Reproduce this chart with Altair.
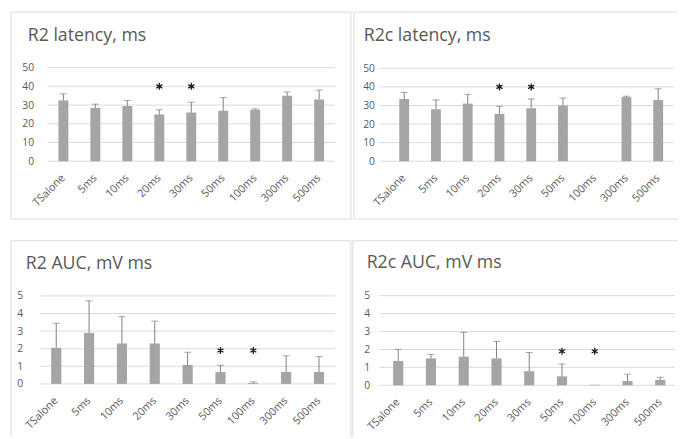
import altair as alt
import pandas as pd

categories = ["TSalone", "5ms", "10ms", "20ms", "30ms", "50ms", "100ms", "300ms", "500ms"]

r2_lat_mean = [32.5, 28.5, 29.5, 25.0, 26.0, 27.0, 27.5, 35.0, 33.0]
r2_lat_sd = [3.5, 2.0, 3.0, 2.5, 5.5, 7.0, 0.5, 2.0, 5.0]

r2c_lat_mean = [33.5, 28.0, 31.0, 25.5, 28.5, 30.0, None, 34.5, 33.0]
r2c_lat_sd = [3.5, 5.0, 5.0, 4.0, 5.0, 4.0, None, 0.5, 6.0]

r2_auc_mean = [2.05, 2.9, 2.3, 2.3, 1.08, 0.68, 0.05, 0.68, 0.68]
r2_auc_sd = [1.4, 1.82, 1.52, 1.27, 0.72, 0.38, 0.07, 0.92, 0.87]

r2c_auc_mean = [1.36, 1.5, 1.6, 1.5, 0.79, 0.5, 0.03, 0.24, 0.3]
r2c_auc_sd = [0.64, 0.22, 1.35, 0.95, 1.04, 0.69, None, 0.38, 0.15]

lat_stars = ["20ms", "30ms"]
lat_star_level = 40
auc_stars = ["50ms", "100ms"]
auc_star_level = 1.9

lat_ticks = [0, 10, 20, 30, 40, 50]
auc_ticks = [0, 1, 2, 3, 4, 5]

FONT = "Open Sans"
TXT = "#595959"
GRID = "#D9D9D9"
BAR = "#A5A5A5"
ERR = "#7F7F7F"
ASTERISK = "M0,-1L0,1M-0.87,-0.5L0.87,0.5M-0.87,0.5L0.87,-0.5"


def panel(title, means, sds, stars, star_level, ticks, lay):
    W, H = lay["size"]
    tops = [None if (m is None or s is None) else m + s for m, s in zip(means, sds)]
    df = pd.DataFrame({"cat": categories, "mean": means, "top": tops})
    y0, y1 = lay["yrange"]
    xscale = alt.Scale(range=list(lay["band"]), paddingInner=0.69, paddingOuter=0.345)
    yscale = alt.Scale(domain=[ticks[0], ticks[-1]], range=[y0, y1], nice=False, zero=True)
    xaxis = alt.Axis(title=None, labelAngle=-45, labelAlign="right",
                     labelBaseline="middle", ticks=False, tickSize=0,
                     domain=False, grid=False, labelColor=TXT, labelFont=FONT,
                     labelFontSize=11, labelPadding=lay["xpad"],
                     labelOverlap=False, offset=-(H - y0))
    yaxis = alt.Axis(title=None, values=ticks, tickCount=len(ticks), ticks=False,
                     tickSize=0, domain=False, grid=False, labelColor=TXT,
                     labelFont=FONT, labelFontSize=10.5, labelPadding=0,
                     labelOverlap=False, offset=-lay["ylab"])
    gdf = pd.DataFrame({"v": ticks})
    gl, gr = lay["grid"]
    grid = alt.Chart(gdf).mark_rule(color=GRID, strokeWidth=1).encode(
        y=alt.Y("v:Q", scale=yscale, axis=yaxis), x=alt.value(gl), x2=alt.value(gr))
    base = alt.Chart(df)
    bars = base.mark_bar(color=BAR).encode(
        x=alt.X("cat:N", sort=categories, scale=xscale, axis=xaxis),
        y=alt.Y("mean:Q", scale=yscale, axis=yaxis))
    err = base.mark_rule(color=ERR, strokeWidth=1).encode(
        x=alt.X("cat:N", sort=categories), y=alt.Y("mean:Q"), y2="top:Q")
    cap = base.mark_tick(color=ERR, thickness=1, size=7, orient="horizontal").encode(
        x=alt.X("cat:N", sort=categories), y=alt.Y("top:Q"))
    sdf = pd.DataFrame({"cat": stars, "level": [star_level] * len(stars)})
    star = alt.Chart(sdf).mark_point(shape=ASTERISK, filled=False, color="#1a1a1a",
                                     strokeWidth=1.3, size=50, opacity=1).encode(
        x=alt.X("cat:N", sort=categories), y=alt.Y("level:Q"))
    tdf = pd.DataFrame({"t": [title]})
    tx, ty = lay["title"]
    ttl = alt.Chart(tdf).mark_text(align="left", baseline="alphabetic", font=FONT,
                                   fontSize=18, color=TXT).encode(
        x=alt.value(tx), y=alt.value(ty), text="t:N")
    one = pd.DataFrame({"k": [0]})
    fr = alt.Chart(one).mark_rule(color=GRID, strokeWidth=1)
    edges = [
        fr.encode(x=alt.value(0), x2=alt.value(W), y=alt.value(0)),
        fr.encode(x=alt.value(0), y=alt.value(0), y2=alt.value(H)),
    ]
    if lay["right"]:
        edges.append(fr.encode(x=alt.value(W), y=alt.value(0), y2=alt.value(H)))
    if lay["bottom"]:
        edges.append(fr.encode(x=alt.value(0), x2=alt.value(W), y=alt.value(H)))
    return alt.layer(grid, bars, err, cap, star, ttl, *edges).properties(width=W, height=H)


lay_tl = dict(size=(345, 210), band=(37, 329), grid=(37, 329), yrange=(151.3, 56.3),
              ylab=23, xpad=15, title=(17, 29), right=True, bottom=True)
lay_tr = dict(size=(329, 210), band=(35, 325), grid=(26, 325), yrange=(151.3, 57),
              ylab=21, xpad=15, title=(10, 29), right=False, bottom=True)
lay_bl = dict(size=(345, 199), band=(29.3, 329.3), grid=(30, 329), yrange=(145.3, 56),
              ylab=12, xpad=15, title=(15, 29), right=True, bottom=False)
lay_br = dict(size=(330, 199), band=(29.4, 328.6), grid=(27, 327), yrange=(146.7, 55.7),
              ylab=17, xpad=15, title=(14, 28), right=False, bottom=False)

tl = panel("R2 latency, ms", r2_lat_mean, r2_lat_sd, lat_stars, lat_star_level, lat_ticks, lay_tl)
tr = panel("R2c latency, ms", r2c_lat_mean, r2c_lat_sd, lat_stars, lat_star_level, lat_ticks, lay_tr)
bl = panel("R2 AUC, mV ms", r2_auc_mean, r2_auc_sd, auc_stars, auc_star_level, auc_ticks, lay_bl)
br = panel("R2c AUC, mV ms", r2c_auc_mean, r2c_auc_sd, auc_stars, auc_star_level, auc_ticks, lay_br)

chart = alt.vconcat(
    alt.hconcat(tl, tr, spacing=1),
    alt.hconcat(bl, br, spacing=0),
    spacing=20,
).properties(
    padding={"left": 2, "top": 0, "right": 0, "bottom": 0},
    background="white",
).configure_view(strokeWidth=0)

chart.save("out.html", embed_options={"renderer": "svg", "actions": False})
